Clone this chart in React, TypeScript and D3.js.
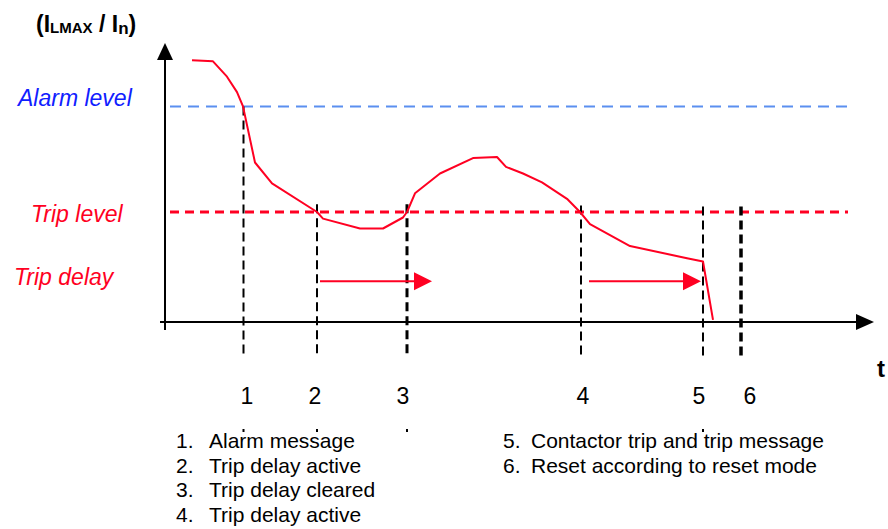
import React from "react";
import { scaleLinear, line as Line } from "d3";

// time (arbitrary units) and current level (I_LMAX / I_n)
const curveT = [27, 48, 62, 72, 78, 90, 107, 152, 158, 195, 218, 238, 242, 250, 275, 308, 332, 341, 358, 377, 402, 415, 425, 465, 522, 538, 548];
const curveV = [2.38, 2.37, 2.23, 2.09, 1.96, 1.45, 1.26, 1.0, 0.94, 0.85, 0.85, 0.95, 1.0, 1.17, 1.35, 1.49, 1.5, 1.41, 1.35, 1.27, 1.12, 1.0, 0.89, 0.69, 0.58, 0.55, 0.02];

const alarmLevel = 1.96;
const tripLevel = 1.0;

const eventT = [78.5, 152, 242, 416, 538, 576];
const eventTop = [alarmLevel, 1.07, 1.07, 1.06, 1.05, 1.05];
const eventWidth = [2, 2, 3, 2, 2, 3.5];
const eventLabels = ["1", "2", "3", "4", "5", "6"];
const eventLabelT = [82, 150, 238, 418, 534, 585];

// trip delay arrows (start, end)
const delayStart = [155, 424];
const delayEnd = [267, 536];
const delayLevel = 0.37;

const legendLeft = [
  "Alarm message",
  "Trip delay active",
  "Trip delay cleared",
  "Trip delay active",
];
const legendRight = ["Contactor trip and trip message", "Reset according to reset mode"];

const RED = "#ff0022";
const BLUE = "#5b8ff0";
const FONT = "'Liberation Sans', Arial, sans-serif";

export default function App() {
  const x = scaleLinear().domain([0, 700]).range([165, 865]);
  const y = scaleLinear().domain([0, 2.5]).range([322, 47]);

  const path = Line<number>()
    .x((_, i) => x(curveT[i]))
    .y((_, i) => y(curveV[i]))(curveT) as string;

  const axisBottom = y(0);
  const dashBottom = 357;

  return (
    <svg
      width={888}
      height={529}
      style={{ position: "absolute", left: 0, top: 0, background: "#fff" }}
      fontFamily={FONT}
    >
      {/* level lines */}
      <line x1={x(5)} x2={852} y1={y(alarmLevel)} y2={y(alarmLevel)} stroke={BLUE} strokeWidth={2} strokeDasharray="11,7" />
      <line x1={x(5)} x2={848} y1={y(tripLevel)} y2={y(tripLevel)} stroke={RED} strokeWidth={3} strokeDasharray="9,6" />

      {/* axes */}
      <line x1={x(0)} x2={x(0)} y1={58} y2={330} stroke="#000" strokeWidth={2} />
      <path d={`M${x(0)},43 L${x(0) - 8},60 L${x(0) + 8},60 Z`} fill="#000" />
      <line x1={160} x2={858} y1={axisBottom} y2={axisBottom} stroke="#000" strokeWidth={2} />
      <path d={`M874,${axisBottom} L856,${axisBottom - 8} L856,${axisBottom + 8} Z`} fill="#000" />

      {/* event markers */}
      {eventT.map((t, i) => (
        <line
          key={i}
          x1={x(t)}
          x2={x(t)}
          y1={y(eventTop[i])}
          y2={dashBottom}
          stroke="#000"
          strokeWidth={eventWidth[i]}
          strokeDasharray="9,5"
        />
      ))}
      {eventT.map((t, i) =>
        i === 3 || i === 5 ? null : (
          <rect key={i} x={x(t) - 1} y={429} width={2} height={3} fill="#000" />
        )
      )}

      {/* current curve */}
      <path d={path} fill="none" stroke={RED} strokeWidth={2} strokeLinejoin="round" />

      {/* trip delay arrows */}
      {delayStart.map((s, i) => (
        <g key={i}>
          <line x1={x(s)} x2={x(delayEnd[i]) - 16} y1={y(delayLevel)} y2={y(delayLevel)} stroke={RED} strokeWidth={2} />
          <path
            d={`M${x(delayEnd[i])},${y(delayLevel)} L${x(delayEnd[i]) - 18},${y(delayLevel) - 9} L${x(delayEnd[i]) - 18},${y(delayLevel) + 9} Z`}
            fill={RED}
          />
        </g>
      ))}

      {/* texts */}
      <text x={36} y={32} fontSize={23} fontWeight="bold">
        (I<tspan fontSize={15} dy={1}>LMAX</tspan>
        <tspan dy={-1}> / I</tspan>
        <tspan fontSize={17} dy={2}>n</tspan>
        <tspan dy={-2}>)</tspan>
      </text>
      <text x={18} y={106} fontSize={23} fontStyle="italic" fill="#1020ff">Alarm level</text>
      <text x={31} y={222} fontSize={23} fontStyle="italic" fill={RED}>Trip level</text>
      <text x={14} y={285} fontSize={23} fontStyle="italic" fill={RED}>Trip delay</text>
      <text x={877} y={377} fontSize={24} fontWeight="bold">t</text>

      {eventLabels.map((l, i) => (
        <text key={l} x={x(eventLabelT[i])} y={404} fontSize={23} textAnchor="middle">
          {l}
        </text>
      ))}

      {legendLeft.map((l, i) => (
        <g key={i} fontSize={21}>
          <text x={176} y={448 + i * 24.7}>{`${i + 1}.`}</text>
          <text x={209} y={448 + i * 24.7}>{l}</text>
        </g>
      ))}
      {legendRight.map((l, i) => (
        <g key={i} fontSize={21}>
          <text x={503} y={448 + i * 24.7}>{`${i + 5}.`}</text>
          <text x={531} y={448 + i * 24.7}>{l}</text>
        </g>
      ))}
    </svg>
  );
}
